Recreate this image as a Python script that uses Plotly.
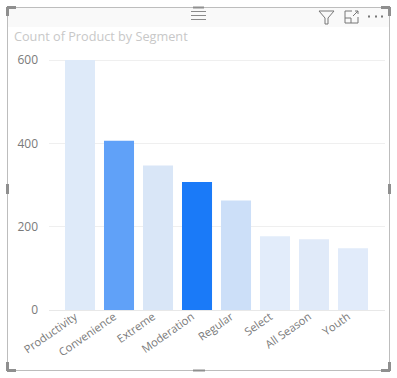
import plotly.graph_objects as go

categories = ["Productivity", "Convenience", "Extreme", "Moderation", "Regular", "Select", "All Season", "Youth"]
counts = [600, 406, 347, 307, 263, 177, 170, 148]
bar_colors = ["#DEEAF9", "#60A1F8", "#D9E6F7", "#1A7AF8", "#CCDFF8", "#E2ECFA", "#E0EAF9", "#E1EBFA"]
y_ticks = [0, 200, 400, 600]

W, H = 397, 378
L, R, T, B = 49, 12, 56, 68
FONT = "Open Sans, Noto Sans, sans-serif"


def px(x):
    return (x - L) / (W - L - R)


def py(y):
    return 1 - (y - T) / (H - T - B)


def rect(x0, y0, x1, y1, fill=None, line=None, lw=1):
    return dict(type="rect", xref="paper", yref="paper", x0=px(x0), x1=px(x1), y0=py(y0), y1=py(y1),
                fillcolor=fill or "rgba(0,0,0,0)", line=dict(color=line or "rgba(0,0,0,0)", width=lw if line else 0),
                layer="below")


def seg(x0, y0, x1, y1, color="#8A8A8A", lw=1):
    return dict(type="line", xref="paper", yref="paper", x0=px(x0), x1=px(x1), y0=py(y0), y1=py(y1),
                line=dict(color=color, width=lw), layer="above")


shapes = [
    rect(8, 8, 389, 27, fill="#F9F9F9"),
    rect(7.5, 7.5, 389.5, 370.5, line="#BDBDBD", lw=1),
    # corner handles
    seg(7, 7.5, 16, 7.5, "#8F8F8F", 3), seg(7.5, 7, 7.5, 16, "#8F8F8F", 3),
    seg(381, 7.5, 390, 7.5, "#8F8F8F", 3), seg(389.5, 7, 389.5, 16, "#8F8F8F", 3),
    seg(7, 370.5, 16, 370.5, "#8F8F8F", 3), seg(7.5, 362, 7.5, 371, "#8F8F8F", 3),
    seg(381, 370.5, 390, 370.5, "#8F8F8F", 3), seg(389.5, 362, 389.5, 371, "#8F8F8F", 3),
    # side handles
    seg(7.5, 184, 7.5, 194, "#8F8F8F", 3), seg(389.5, 184, 389.5, 194, "#8F8F8F", 3),
    seg(193, 370.5, 205, 370.5, "#8F8F8F", 2),
    # drag grip
    seg(191, 11.5, 206, 11.5), seg(191, 15.5, 206, 15.5), seg(191, 19.5, 206, 19.5),
    seg(193, 7.5, 204, 7.5, "#8F8F8F", 2),
    # filter icon
    seg(319, 11, 334, 11, "#777777"), seg(319, 11, 325, 18, "#777777"), seg(334, 11, 328, 18, "#777777"),
    seg(325, 18, 325, 24, "#777777"), seg(328, 18, 328, 24, "#777777"), seg(325, 24, 328, 24, "#777777"),
    # focus icon
    seg(345, 11, 352, 11, "#777777"), seg(345, 11, 345, 23, "#777777"), seg(345, 23, 358, 23, "#777777"),
    seg(358, 23, 358, 17, "#777777"), seg(345, 18, 351, 18, "#777777"), seg(351, 18, 351, 23, "#777777"),
    seg(353, 16, 358, 11, "#777777"), seg(355, 11, 358, 11, "#777777"), seg(358, 11, 358, 14, "#777777"),
    # more dots
    seg(368, 16.5, 370, 16.5, "#777777", 2), seg(375, 16.5, 377, 16.5, "#777777", 2), seg(381, 16.5, 383, 16.5, "#777777", 2),
]

fig = go.Figure(go.Bar(x=categories, y=counts, marker=dict(color=bar_colors, line=dict(width=0)), hoverinfo="x+y"))

fig.update_layout(
    width=W, height=H,
    margin=dict(l=L, r=R, t=T, b=B, pad=0),
    paper_bgcolor="white", plot_bgcolor="white",
    bargap=0.23, showlegend=False, shapes=shapes,
    font=dict(family=FONT),
    xaxis=dict(
        type="category", categoryorder="array", categoryarray=categories,
        range=[-0.795, 7.82], tickangle=-35, ticks="", showgrid=False, showline=True,
        linecolor="#E8E8E8", linewidth=1, zeroline=False, tickfont=dict(size=11.2, color="#7A7A7A"), automargin=False,
        ticklabelshift=-5, ticklabelstandoff=-5,
    ),
    yaxis=dict(
        range=[0, 609.6], tickvals=y_ticks, ticktext=[str(v) for v in y_ticks], ticks="", showline=False,
        gridcolor="#EFEFEF", gridwidth=1, zeroline=False, tickfont=dict(size=12, color="#7A7A7A"), automargin=False,
        ticklabelstandoff=10,
    ),
    annotations=[dict(text="Count of Product by Segment", xref="paper", yref="paper", x=px(11.5), y=py(36),
                      xanchor="left", yanchor="middle", showarrow=False, font=dict(size=12.7, color="#C8C8C8", family=FONT))],
)

fig.write_html("out.html", config={"displayModeBar": False},
               post_script="document.body.style.margin='0';")
